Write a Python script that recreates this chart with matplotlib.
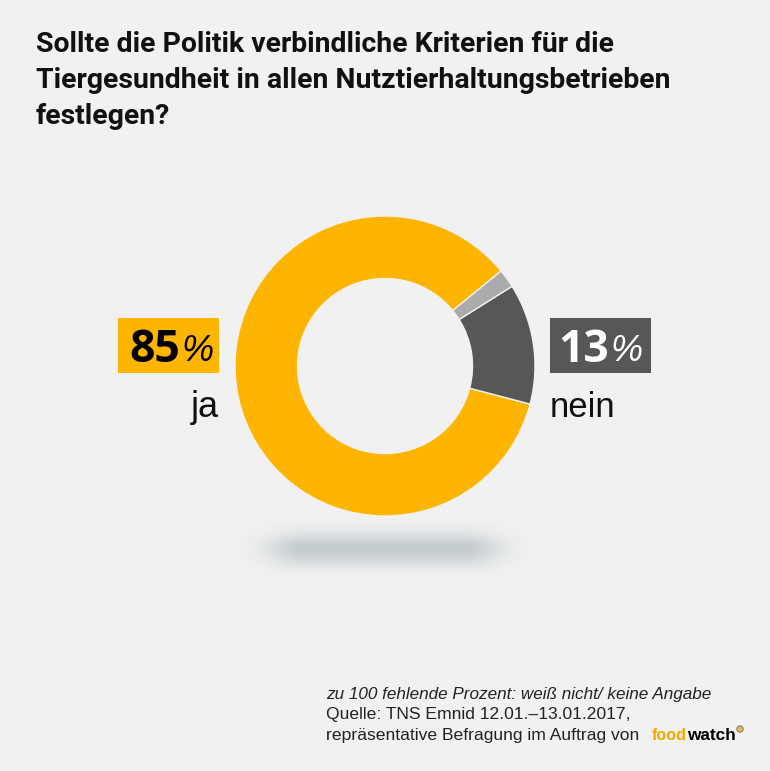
import numpy as np
import matplotlib
matplotlib.use("Agg")
import matplotlib.pyplot as plt
from matplotlib.patches import Rectangle, Circle

title_lines = ["Sollte die Politik verbindliche Kriterien für die",
               "Tiergesundheit in allen Nutztierhaltungsbetrieben",
               "festlegen?"]
categories = ["ja", "nein", "weiß nicht/keine Angabe"]
values = [85, 13, 2]
colors = ["#FDB500", "#575757", "#ABABAB"]
notes = ["zu 100 fehlende Prozent: weiß nicht/ keine Angabe",
         "Quelle: TNS Emnid 12.01.–13.01.2017,",
         "repräsentative Befragung im Auftrag von "]
BG = "#F1F1F1"

fig = plt.figure(figsize=(7.70, 7.71), dpi=100, facecolor=BG)
ax = fig.add_axes([0, 0, 1, 1])
ax.axis("off")

# soft shadow below the ring
xx, yy = np.meshgrid(np.linspace(215, 555, 340), np.linspace(505, 595, 90))
dx = np.clip(np.abs(xx - 384) - 80, 0, None) / 36
dy = (yy - 549) / 16
rgba = np.zeros(xx.shape + (4,))
rgba[..., :3] = np.array([0xBF, 0xC7, 0xCA]) / 255
rgba[..., 3] = np.exp(-(dx**2 + dy**2)) * 0.9
ax.imshow(rgba, extent=(215, 555, 595, 505), interpolation="bilinear", zorder=1, aspect="auto")

# ring: the y axis is inverted, so clockwise data angles read counter-clockwise on screen
ax.pie(values, colors=colors, center=(385, 366), radius=150, startangle=-39.3,
       counterclock=False, frame=False,
       wedgeprops=dict(width=62.5, edgecolor=BG, linewidth=1.0), normalize=True)
ax.set_xlim(0, 770); ax.set_ylim(771, 0); ax.set_aspect("auto")
ax.add_patch(Circle((385, 366), 87.5, fc=BG, ec="none", zorder=3))

for y, line in zip([52.5, 88.5, 124.5], title_lines):
    ax.text(36, y, line, fontsize=20.4, fontweight="bold", family="Roboto",
            va="baseline", ha="left", color="#111111")

ax.add_patch(Rectangle((118, 318), 101, 55, fc=colors[0], ec="none", zorder=4))
ax.add_patch(Rectangle((550, 318), 101, 55, fc=colors[1], ec="none", zorder=4))
for x0, num, c in [(129, "85", "black"), (558, "13", "white")]:
    ax.text(x0, 362, num, fontsize=32, fontweight="bold", family="Open Sans", color=c, va="baseline", ha="left", zorder=5)
    ax.text(x0 + 52, 361, "%", fontsize=26, family="Liberation Sans", style="italic", color=c, va="baseline", ha="left", zorder=5)
ax.text(219, 417, categories[0], fontsize=26, family="Liberation Sans", ha="right", va="baseline", color="#111111")
ax.text(550, 417, categories[1], fontsize=25, family="Liberation Sans", ha="left", va="baseline", color="#111111")

ax.text(326, 699, notes[0], fontsize=12.3, style="italic", family="Liberation Sans", va="baseline", color="#222222")
ax.text(326, 719.5, notes[1], fontsize=12.6, family="Liberation Sans", va="baseline", color="#222222")
ax.text(326, 740, notes[2], fontsize=12.6, family="Liberation Sans", va="baseline", color="#222222")
ax.text(652, 740, "food", fontsize=11.7, fontweight="bold", family="Liberation Sans", color="#EFA900", va="baseline")
ax.text(687.5, 740, "watch", fontsize=12.4, fontweight="bold", family="Liberation Sans", color="#000000", va="baseline")
ax.add_patch(Circle((740, 729), 3.2, fc="#E8B84A", ec="#777777", lw=0.7, zorder=5))

fig.savefig("out.png", dpi=100, facecolor=BG)
